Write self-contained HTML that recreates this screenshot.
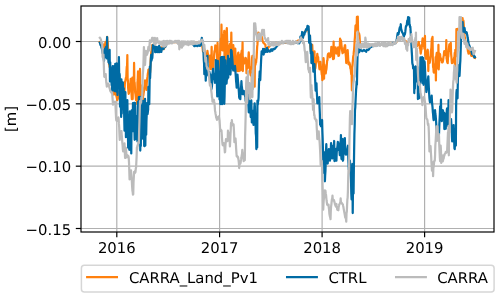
<!DOCTYPE html>
<html><head><meta charset="utf-8"><style>
html,body{margin:0;padding:0;background:#fff;}
svg{display:block;}
text{font-family:"DejaVu Sans","Liberation Sans",sans-serif;font-size:14.86px;fill:#000;text-rendering:geometricPrecision;}
</style></head><body>
<svg width="500" height="298" viewBox="0 0 500 298">
<rect width="500" height="298" fill="#fff"/>
<defs><clipPath id="ax"><rect x="81.0" y="6.0" width="413.0" height="226.0"/></clipPath></defs>
<g stroke="#b0b0b0" stroke-width="1.19"><line x1="81.0" y1="41.5" x2="494.0" y2="41.5"/><line x1="81.0" y1="103.83" x2="494.0" y2="103.83"/><line x1="81.0" y1="166.17" x2="494.0" y2="166.17"/><line x1="81.0" y1="228.5" x2="494.0" y2="228.5"/><line x1="116.8" y1="6.0" x2="116.8" y2="232.0"/><line x1="219.6" y1="6.0" x2="219.6" y2="232.0"/><line x1="322.1" y1="6.0" x2="322.1" y2="232.0"/><line x1="424.6" y1="6.0" x2="424.6" y2="232.0"/></g>
<g clip-path="url(#ax)" fill="none" stroke-width="2.23" stroke-linejoin="round" stroke-linecap="square">
<polyline stroke="#ff800e" points="99.80,41.98 100.08,41.92 100.36,42.25 100.64,42.47 100.92,42.83 101.21,42.91 101.49,42.68 101.77,43.06 102.05,43.18 102.33,44.10 102.61,43.92 102.89,44.78 103.17,45.80 103.45,45.85 103.73,46.27 104.02,47.04 104.30,47.58 104.58,47.29 104.86,49.02 105.14,43.85 105.42,42.33 105.70,41.84 105.98,42.29 106.26,41.85 106.54,42.37 106.83,40.84 107.11,36.88 107.39,41.88 107.67,41.36 107.95,47.21 108.23,51.89 108.51,55.51 108.79,59.80 109.07,64.65 109.35,64.19 109.64,66.81 109.92,67.77 110.20,67.67 110.48,70.05 110.76,69.03 111.04,70.64 111.32,71.44 111.60,77.38 111.88,78.54 112.16,83.49 112.45,86.89 112.73,89.51 113.01,92.47 113.29,93.05 113.57,93.96 113.85,94.47 114.13,93.28 114.41,92.70 114.69,91.45 114.98,91.18 115.26,92.05 115.54,92.43 115.82,94.11 116.10,94.87 116.38,95.85 116.66,97.12 116.94,98.27 117.22,100.03 117.50,99.35 117.79,98.39 118.07,98.44 118.35,96.60 118.63,96.14 118.91,95.10 119.19,94.60 119.47,91.80 119.75,92.02 120.03,95.32 120.31,99.84 120.60,104.77 120.88,104.14 121.16,101.62 121.44,98.19 121.72,107.10 122.00,92.61 122.28,88.89 122.56,94.49 122.84,106.37 123.12,100.54 123.41,103.66 123.69,98.45 123.97,95.17 124.25,92.43 124.53,90.35 124.81,84.18 125.09,81.38 125.37,81.00 125.65,79.17 125.93,77.71 126.22,78.41 126.50,71.34 126.78,66.65 127.06,66.79 127.34,55.07 127.62,78.77 127.90,80.74 128.18,88.49 128.46,91.59 128.75,93.80 129.03,92.81 129.31,90.23 129.59,87.67 129.87,85.62 130.15,84.23 130.43,82.86 130.71,78.79 130.99,84.93 131.27,87.03 131.56,94.47 131.84,99.10 132.12,83.23 132.40,77.63 132.68,99.10 132.96,78.35 133.24,87.37 133.52,86.38 133.80,84.91 134.08,62.97 134.37,83.33 134.65,82.52 134.93,88.39 135.21,92.74 135.49,94.10 135.77,96.85 136.05,100.11 136.33,98.73 136.61,96.72 136.89,91.79 137.18,103.98 137.46,82.56 137.74,79.94 138.02,71.44 138.30,79.97 138.58,84.18 138.86,86.24 139.14,96.26 139.42,94.84 139.70,99.65 139.99,68.92 140.27,95.25 140.55,89.03 140.83,88.44 141.11,85.40 141.39,102.10 141.67,86.61 141.95,89.41 142.23,94.25 142.52,92.06 142.80,101.71 143.08,95.93 143.36,95.34 143.64,92.70 143.92,91.44 144.20,87.07 144.48,87.92 144.76,85.46 145.04,80.37 145.33,82.29 145.61,85.55 145.89,83.68 146.17,86.66 146.45,89.98 146.73,83.51 147.01,80.05 147.29,78.05 147.57,76.16 147.85,73.61 148.14,72.32 148.42,69.69 148.70,69.52 148.98,71.99 149.26,73.38 149.54,73.22 149.82,73.56 150.10,72.30 150.38,67.00 150.66,60.16 150.95,56.25 151.23,52.70 151.51,50.72 151.79,48.28 152.07,46.93 152.35,44.90 152.63,46.64 152.91,46.23 153.19,46.28 153.47,44.90 153.76,46.28 154.04,47.03 154.32,47.31 154.60,47.45 154.88,47.56 155.16,47.56 155.44,47.57 155.72,47.37 156.00,47.59 156.29,47.57 156.57,48.33 156.85,48.87 157.13,49.74 157.41,49.41 157.69,49.44 157.97,48.89 158.25,50.10 158.53,48.17 158.81,48.79 159.10,48.99 159.38,48.82 159.66,48.49 159.94,47.98 160.22,47.81 160.50,47.70 160.78,47.68 161.06,47.54 161.34,49.99 161.62,47.34 161.91,47.75 162.19,47.75 162.47,47.88 162.75,48.33 163.03,48.24 163.31,48.15 163.59,48.62 163.87,49.00 164.15,47.97 164.43,47.71 164.72,47.07 165.00,46.32 165.28,45.74 165.56,45.30 165.84,44.77 166.12,44.44 166.40,43.89 166.68,43.78 166.96,43.77 167.24,43.53 167.53,43.33 167.81,43.04 168.09,42.85 168.37,42.75 168.65,42.69 168.93,42.64 169.21,42.56 169.49,42.46 169.77,42.34 170.05,42.25 170.34,42.25 170.62,42.25 170.90,42.25 171.18,42.25 171.46,42.25 171.74,42.25 172.02,42.25 172.30,42.25 172.58,42.25 172.87,42.25 173.15,42.25 173.43,42.25 173.71,42.25 173.99,42.25 174.27,42.25 174.55,42.25 174.83,42.25 175.11,42.25 175.39,42.25 175.68,42.25 175.96,42.25 176.24,42.25 176.52,42.25 176.80,42.25 177.08,42.25 177.36,42.25 177.64,42.25 177.92,42.25 178.20,42.25 178.49,42.25 178.77,42.25 179.05,42.25 179.33,42.25 179.61,42.25 179.89,42.25 180.17,42.25 180.45,42.25 180.73,42.25 181.01,42.25 181.30,42.25 181.58,42.25 181.86,42.25 182.14,42.25 182.42,42.25 182.70,42.25 182.98,42.25 183.26,42.25 183.54,42.25 183.82,42.25 184.11,42.25 184.39,42.25 184.67,42.25 184.95,42.25 185.23,42.25 185.51,42.25 185.79,42.25 186.07,42.25 186.35,42.25 186.64,42.25 186.92,42.25 187.20,42.25 187.48,42.25 187.76,42.25 188.04,42.25 188.32,42.25 188.60,42.25 188.88,42.25 189.16,42.25 189.45,42.25 189.73,42.25 190.01,42.25 190.29,42.25 190.57,42.25 190.85,42.25 191.13,42.25 191.41,42.25 191.69,42.25 191.97,42.25 192.26,42.25 192.54,42.25 192.82,42.25 193.10,42.25 193.38,42.25 193.66,42.25 193.94,42.25 194.22,42.25 194.50,42.25 194.78,42.25 195.07,42.25 195.35,42.25 195.63,42.25 195.91,42.25 196.19,42.25 196.47,42.25 196.75,42.25 197.03,42.25 197.31,42.25 197.59,42.25 197.88,42.25 198.16,42.25 198.44,42.25 198.72,42.25 199.00,42.25 199.28,42.25 199.56,42.25 199.84,42.25 200.12,42.47 200.41,43.13 200.69,43.67 200.97,44.00 201.25,44.15 201.53,44.52 201.81,44.69 202.09,45.45 202.37,46.80 202.65,48.63 202.93,51.43 203.22,51.15 203.50,50.51 203.78,49.35 204.06,48.64 204.34,49.50 204.62,50.43 204.90,52.20 205.18,53.52 205.46,54.43 205.74,56.83 206.03,57.38 206.31,57.49 206.59,56.42 206.87,55.54 207.15,54.14 207.43,50.90 207.71,52.87 207.99,54.54 208.27,55.09 208.55,55.37 208.84,57.16 209.12,57.55 209.40,60.25 209.68,62.36 209.96,60.23 210.24,69.10 210.52,56.40 210.80,55.36 211.08,55.15 211.36,58.50 211.65,46.90 211.93,69.10 212.21,63.30 212.49,65.81 212.77,66.56 213.05,64.30 213.33,68.82 213.61,60.58 213.89,59.76 214.18,54.41 214.46,51.13 214.74,51.72 215.02,49.35 215.30,45.37 215.58,45.73 215.86,48.81 216.14,48.39 216.42,51.79 216.70,51.30 216.99,55.74 217.27,69.10 217.55,42.97 217.83,53.67 218.11,59.77 218.39,69.10 218.67,68.87 218.95,62.56 219.23,58.91 219.51,59.88 219.80,55.31 220.08,54.60 220.36,45.75 220.64,42.75 220.92,38.61 221.20,42.49 221.48,24.70 221.76,46.28 222.04,49.96 222.32,47.40 222.61,50.33 222.89,45.90 223.17,42.69 223.45,41.22 223.73,34.71 224.01,33.47 224.29,30.90 224.57,64.10 224.85,52.58 225.13,59.38 225.42,57.44 225.70,63.28 225.98,43.32 226.26,38.78 226.54,31.41 226.82,28.01 227.10,39.31 227.38,43.29 227.66,46.24 227.95,51.05 228.23,60.50 228.51,55.29 228.79,52.80 229.07,51.26 229.35,48.27 229.63,46.33 229.91,44.55 230.19,43.65 230.47,44.02 230.76,45.76 231.04,45.90 231.32,32.53 231.60,50.25 231.88,51.34 232.16,55.23 232.44,53.23 232.72,50.81 233.00,46.37 233.28,45.01 233.57,48.79 233.85,55.37 234.13,61.40 234.41,70.56 234.69,70.18 234.97,58.37 235.25,48.61 235.53,55.34 235.81,63.15 236.09,69.79 236.38,65.11 236.66,64.92 236.94,61.01 237.22,71.10 237.50,58.73 237.78,55.98 238.06,53.26 238.34,52.59 238.62,55.08 238.90,71.10 239.19,60.21 239.47,59.85 239.75,56.39 240.03,61.28 240.31,55.17 240.59,70.50 240.87,54.39 241.15,53.83 241.43,52.78 241.72,50.64 242.00,54.87 242.28,54.32 242.56,42.44 242.84,71.10 243.12,57.24 243.40,59.20 243.68,60.67 243.96,63.69 244.24,62.76 244.53,62.37 244.81,60.39 245.09,61.29 245.37,61.86 245.65,57.90 245.93,58.69 246.21,60.82 246.49,73.10 246.77,63.12 247.05,66.75 247.34,67.48 247.62,68.25 247.90,62.40 248.18,62.01 248.46,56.40 248.74,52.44 249.02,55.84 249.30,59.31 249.58,66.08 249.86,68.07 250.15,72.31 250.43,74.18 250.71,75.35 250.99,70.16 251.27,67.38 251.55,67.03 251.83,82.13 252.11,57.62 252.39,55.90 252.67,65.45 252.96,73.61 253.24,68.60 253.52,55.99 253.80,64.62 254.08,58.80 254.36,65.98 254.64,86.67 254.92,61.84 255.20,62.99 255.49,64.75 255.77,60.65 256.05,62.66 256.33,59.65 256.61,58.04 256.89,51.85 257.17,46.67 257.45,44.40 257.73,38.10 258.01,36.22 258.30,32.51 258.58,32.73 258.86,35.07 259.14,35.30 259.42,35.62 259.70,36.96 259.98,38.31 260.26,39.16 260.54,38.22 260.82,37.58 261.11,36.66 261.39,36.85 261.67,36.53 261.95,38.03 262.23,38.29 262.51,40.54 262.79,41.38 263.07,42.03 263.35,42.72 263.63,43.12 263.92,43.19 264.20,43.45 264.48,43.72 264.76,44.12 265.04,44.37 265.32,44.46 265.60,46.94 265.88,48.92 266.16,48.73 266.44,48.82 266.73,48.77 267.01,48.66 267.29,48.90 267.57,48.47 267.85,49.78 268.13,47.29 268.41,46.60 268.69,46.71 268.97,46.51 269.26,46.60 269.54,46.19 269.82,46.01 270.10,45.53 270.38,45.38 270.66,45.21 270.94,45.00 271.22,44.92 271.50,44.69 271.78,44.60 272.07,44.54 272.35,44.41 272.63,44.27 272.91,44.12 273.19,44.04 273.47,43.95 273.75,43.91 274.03,43.86 274.31,43.83 274.59,43.79 274.88,43.76 275.16,43.72 275.44,43.70 275.72,43.66 276.00,43.63 276.28,43.59 276.56,43.55 276.84,43.52 277.12,43.48 277.40,43.45 277.69,43.41 277.97,43.38 278.25,43.34 278.53,43.31 278.81,43.27 279.09,43.24 279.37,43.22 279.65,43.20 279.93,43.17 280.21,43.15 280.50,43.13 280.78,43.10 281.06,43.08 281.34,43.06 281.62,43.03 281.90,43.01 282.18,42.98 282.46,42.96 282.74,42.94 283.03,42.91 283.31,42.89 283.59,42.87 283.87,42.84 284.15,42.82 284.43,42.80 284.71,42.77 284.99,42.75 285.27,42.75 285.55,42.75 285.84,42.75 286.12,42.75 286.40,42.75 286.68,42.75 286.96,42.75 287.24,42.75 287.52,42.75 287.80,42.75 288.08,42.75 288.36,42.75 288.65,42.75 288.93,42.75 289.21,42.75 289.49,42.75 289.77,42.75 290.05,42.75 290.33,42.75 290.61,42.75 290.89,42.75 291.17,42.75 291.46,42.75 291.74,42.75 292.02,42.75 292.30,42.75 292.58,42.75 292.86,42.75 293.14,42.75 293.42,42.75 293.70,42.75 293.98,42.75 294.27,42.75 294.55,42.75 294.83,42.75 295.11,42.68 295.39,42.49 295.67,42.30 295.95,42.10 296.23,41.86 296.51,41.65 296.80,41.34 297.08,41.10 297.36,40.97 297.64,40.86 297.92,40.69 298.20,40.62 298.48,40.64 298.76,40.52 299.04,40.48 299.32,40.28 299.61,40.13 299.89,39.91 300.17,41.02 300.45,40.32 300.73,40.06 301.01,39.90 301.29,39.86 301.57,39.60 301.85,39.40 302.13,38.93 302.42,38.13 302.70,37.40 302.98,36.88 303.26,35.57 303.54,34.79 303.82,33.57 304.10,33.17 304.38,32.79 304.66,32.21 304.94,31.66 305.23,31.38 305.51,31.14 305.79,30.74 306.07,30.56 306.35,30.07 306.63,29.65 306.91,29.41 307.19,29.02 307.47,28.72 307.75,28.43 308.04,28.09 308.32,29.82 308.60,31.36 308.88,32.90 309.16,35.75 309.44,37.59 309.72,40.15 310.00,42.83 310.28,46.42 310.56,48.82 310.85,51.24 311.13,52.29 311.41,50.54 311.69,48.61 311.97,47.71 312.25,44.93 312.53,51.07 312.81,55.12 313.09,62.31 313.38,68.04 313.66,63.79 313.94,59.06 314.22,53.80 314.50,51.30 314.78,71.10 315.06,63.39 315.34,68.43 315.62,66.42 315.90,62.74 316.19,61.91 316.47,60.64 316.75,57.73 317.03,56.57 317.31,53.81 317.59,56.69 317.87,56.86 318.15,57.17 318.43,61.73 318.71,63.07 319.00,64.15 319.28,67.94 319.56,69.25 319.84,66.86 320.12,63.54 320.40,61.81 320.68,64.74 320.96,68.81 321.24,68.67 321.52,71.84 321.81,74.70 322.09,74.87 322.37,80.10 322.65,76.41 322.93,67.18 323.21,64.69 323.49,58.02 323.77,60.54 324.05,78.74 324.33,64.58 324.62,68.00 324.90,67.50 325.18,70.84 325.46,72.11 325.74,73.36 326.02,70.65 326.30,69.93 326.58,67.50 326.86,64.15 327.15,60.52 327.43,60.47 327.71,55.92 327.99,54.26 328.27,53.55 328.55,54.21 328.83,53.30 329.11,54.37 329.39,54.70 329.67,56.21 329.96,57.26 330.24,54.25 330.52,56.27 330.80,53.67 331.08,51.56 331.36,46.84 331.64,50.74 331.92,51.13 332.20,52.27 332.48,54.41 332.77,56.41 333.05,59.10 333.33,57.48 333.61,41.58 333.89,58.58 334.17,53.49 334.45,50.70 334.73,49.28 335.01,48.87 335.29,49.12 335.58,47.43 335.86,49.68 336.14,52.35 336.42,53.53 336.70,52.85 336.98,52.83 337.26,51.29 337.54,50.02 337.82,49.28 338.10,47.32 338.39,55.92 338.67,52.43 338.95,55.67 339.23,53.10 339.51,49.68 339.79,47.94 340.07,38.55 340.35,45.06 340.63,40.80 340.92,40.29 341.20,42.19 341.48,45.32 341.76,47.32 342.04,50.32 342.32,51.81 342.60,53.20 342.88,52.50 343.16,52.41 343.44,51.55 343.73,52.15 344.01,50.70 344.29,47.56 344.57,47.72 344.85,45.34 345.13,45.12 345.41,50.17 345.69,54.37 345.97,57.51 346.25,63.03 346.54,59.26 346.82,56.39 347.10,55.31 347.38,52.61 347.66,50.16 347.94,54.91 348.22,59.86 348.50,64.30 348.78,63.90 349.06,62.42 349.35,62.55 349.63,63.81 349.91,64.21 350.19,66.71 350.47,68.89 350.75,68.93 351.03,72.26 351.31,74.63 351.59,72.19 351.87,90.35 352.16,67.67 352.44,65.84 352.72,62.59 353.00,59.13 353.28,56.17 353.56,54.95 353.84,51.58 354.12,49.53 354.40,45.82 354.69,39.87 354.97,36.79 355.25,30.93 355.53,25.62 355.81,25.26 356.09,25.49 356.37,29.71 356.65,26.23 356.93,16.79 357.21,30.88 357.50,29.72 357.78,16.50 358.06,31.89 358.34,32.03 358.62,32.61 358.90,34.61 359.18,33.84 359.46,35.40 359.74,39.65 360.02,43.02 360.31,43.70 360.59,44.21 360.87,44.85 361.15,45.27 361.43,45.09 361.71,44.73 361.99,45.26 362.27,46.10 362.55,45.81 362.83,46.10 363.12,46.00 363.40,45.86 363.68,45.70 363.96,45.57 364.24,45.51 364.52,45.39 364.80,45.26 365.08,45.52 365.36,45.92 365.64,45.29 365.93,44.90 366.21,45.04 366.49,45.32 366.77,45.52 367.05,45.69 367.33,45.84 367.61,45.88 367.89,45.94 368.17,45.70 368.46,45.51 368.74,45.37 369.02,45.20 369.30,45.10 369.58,44.94 369.86,45.05 370.14,46.09 370.42,45.35 370.70,45.51 370.98,45.63 371.27,45.72 371.55,45.87 371.83,45.54 372.11,45.10 372.39,44.87 372.67,45.18 372.95,45.71 373.23,45.52 373.51,45.25 373.79,45.13 374.08,45.05 374.36,44.87 374.64,44.89 374.92,45.04 375.20,45.04 375.48,45.07 375.76,45.17 376.04,44.95 376.32,44.79 376.60,44.57 376.89,44.74 377.17,44.79 377.45,44.96 377.73,44.98 378.01,44.93 378.29,44.87 378.57,44.82 378.85,44.66 379.13,44.69 379.41,44.57 379.70,44.46 379.98,44.45 380.26,44.58 380.54,44.79 380.82,44.77 381.10,44.66 381.38,44.56 381.66,44.51 381.94,44.49 382.23,44.43 382.51,44.34 382.79,44.29 383.07,44.40 383.35,44.52 383.63,44.42 383.91,44.60 384.19,44.63 384.47,44.73 384.75,44.80 385.04,44.84 385.32,44.58 385.60,44.33 385.88,44.11 386.16,44.26 386.44,44.27 386.72,44.32 387.00,44.39 387.28,44.41 387.56,44.37 387.85,44.31 388.13,44.21 388.41,44.01 388.69,44.02 388.97,44.01 389.25,44.03 389.53,44.12 389.81,44.19 390.09,44.27 390.37,43.96 390.66,43.74 390.94,43.77 391.22,43.85 391.50,43.79 391.78,43.83 392.06,43.82 392.34,43.82 392.62,43.62 392.90,43.55 393.18,43.36 393.47,43.25 393.75,43.13 394.03,43.07 394.31,42.89 394.59,42.76 394.87,42.70 395.15,42.64 395.43,42.62 395.71,42.58 396.00,42.53 396.28,42.09 396.56,41.60 396.84,41.14 397.12,40.68 397.40,40.22 397.68,39.77 397.96,39.31 398.24,39.19 398.52,39.12 398.81,39.05 399.09,38.98 399.37,38.91 399.65,38.84 399.93,38.77 400.21,38.75 400.49,38.75 400.77,38.75 401.05,38.75 401.33,38.75 401.62,38.75 401.90,38.75 402.18,38.86 402.46,39.04 402.74,39.21 403.02,39.39 403.30,39.56 403.58,39.75 403.86,39.95 404.14,40.18 404.43,40.43 404.71,40.63 404.99,40.80 405.27,41.01 405.55,41.17 405.83,41.21 406.11,41.31 406.39,41.66 406.67,42.05 406.95,42.23 407.24,42.94 407.52,42.55 407.80,42.45 408.08,42.38 408.36,42.09 408.64,41.81 408.92,41.38 409.20,41.07 409.48,40.83 409.77,40.76 410.05,39.93 410.33,40.91 410.61,41.24 410.89,41.40 411.17,41.47 411.45,41.60 411.73,41.83 412.01,42.07 412.29,42.16 412.58,42.27 412.86,42.80 413.14,42.84 413.42,43.18 413.70,43.74 413.98,43.91 414.26,44.24 414.54,44.52 414.82,45.26 415.10,45.15 415.39,45.51 415.67,45.97 415.95,42.90 416.23,46.06 416.51,45.51 416.79,45.88 417.07,46.15 417.35,44.59 417.63,45.02 417.91,44.62 418.20,43.60 418.48,42.33 418.76,41.89 419.04,44.73 419.32,44.74 419.60,46.09 419.88,48.74 420.16,47.02 420.44,50.91 420.72,53.53 421.01,51.94 421.29,49.80 421.57,49.33 421.85,44.82 422.13,43.21 422.41,40.17 422.69,38.28 422.97,40.52 423.25,45.88 423.54,43.89 423.82,45.72 424.10,45.48 424.38,48.58 424.66,48.80 424.94,35.91 425.22,55.23 425.50,54.87 425.78,57.07 426.06,58.83 426.35,56.00 426.63,54.66 426.91,54.43 427.19,51.01 427.47,50.41 427.75,49.68 428.03,55.69 428.31,71.10 428.59,57.47 428.87,57.33 429.16,60.96 429.44,62.19 429.72,62.76 430.00,61.00 430.28,58.92 430.56,56.69 430.84,51.49 431.12,49.87 431.40,47.69 431.68,40.94 431.97,38.33 432.25,42.70 432.53,36.94 432.81,57.51 433.09,67.08 433.37,67.75 433.65,71.87 433.93,72.68 434.21,69.53 434.49,68.55 434.78,68.83 435.06,64.08 435.34,64.32 435.62,57.20 435.90,80.48 436.18,57.48 436.46,55.00 436.74,52.93 437.02,59.88 437.31,59.99 437.59,65.47 437.87,65.53 438.15,68.71 438.43,44.95 438.71,69.48 438.99,63.63 439.27,60.27 439.55,56.83 439.83,53.74 440.12,54.64 440.40,58.29 440.68,59.16 440.96,58.32 441.24,60.11 441.52,59.93 441.80,62.12 442.08,62.38 442.36,62.37 442.64,62.08 442.93,61.18 443.21,59.22 443.49,56.82 443.77,55.72 444.05,52.28 444.33,51.01 444.61,51.25 444.89,52.55 445.17,54.29 445.45,53.40 445.74,55.07 446.02,54.66 446.30,40.13 446.58,58.36 446.86,59.39 447.14,61.78 447.42,62.79 447.70,63.10 447.98,57.24 448.26,56.77 448.55,52.57 448.83,49.53 449.11,46.54 449.39,44.47 449.67,45.78 449.95,47.45 450.23,51.03 450.51,49.37 450.79,42.91 451.07,53.48 451.36,56.29 451.64,60.05 451.92,63.12 452.20,60.75 452.48,62.99 452.76,60.05 453.04,61.66 453.32,59.84 453.60,60.30 453.89,59.12 454.17,57.33 454.45,57.50 454.73,52.75 455.01,70.21 455.29,49.96 455.57,54.32 455.85,53.43 456.13,56.02 456.41,29.13 456.70,56.24 456.98,53.43 457.26,49.46 457.54,28.78 457.82,48.21 458.10,40.21 458.38,38.17 458.66,37.52 458.94,42.38 459.22,45.04 459.51,47.48 459.79,44.47 460.07,40.76 460.35,37.39 460.63,31.19 460.91,32.04 461.19,31.67 461.47,34.10 461.75,36.68 462.03,36.16 462.32,32.85 462.60,18.19 462.88,24.76 463.16,22.86 463.44,20.72 463.72,24.27 464.00,28.58 464.28,33.08 464.56,35.84 464.84,38.04 465.13,39.78 465.41,41.77 465.69,44.16 465.97,44.46 466.25,44.27 466.53,44.08 466.81,43.73 467.09,45.00 467.37,47.13 467.66,48.99 467.94,51.45 468.22,52.14 468.50,53.60 468.78,53.19 469.06,52.30 469.34,51.64 469.62,51.29 469.90,50.86 470.18,52.17 470.47,53.28 470.75,54.07 471.03,54.97 471.31,55.78 471.59,55.92 471.87,55.44 472.15,55.52 472.43,55.58 472.71,55.69 472.99,55.39 473.28,55.81 473.56,56.43 473.84,56.94 474.12,57.47 474.40,57.72 474.68,57.96 474.96,57.99"/>
<polyline stroke="#006ba4" points="99.80,42.71 100.08,43.47 100.36,44.65 100.64,45.21 100.92,45.35 101.21,45.48 101.49,47.91 101.77,47.82 102.05,49.55 102.33,51.33 102.61,52.94 102.89,52.04 103.17,54.28 103.45,56.20 103.73,58.17 104.02,61.05 104.30,55.68 104.58,49.15 104.86,53.26 105.14,54.38 105.42,57.23 105.70,47.55 105.98,47.02 106.26,55.15 106.54,54.15 106.83,58.33 107.11,37.11 107.39,57.88 107.67,50.90 107.95,55.14 108.23,57.04 108.51,62.11 108.79,61.76 109.07,63.35 109.35,52.57 109.64,49.97 109.92,81.47 110.20,62.29 110.48,76.72 110.76,77.82 111.04,71.74 111.32,72.91 111.60,85.19 111.88,80.38 112.16,90.77 112.45,68.41 112.73,66.01 113.01,89.12 113.29,84.00 113.57,75.29 113.85,66.34 114.13,77.05 114.41,91.10 114.69,81.07 114.98,75.18 115.26,63.82 115.54,70.66 115.82,77.36 116.10,85.54 116.38,91.62 116.66,63.28 116.94,72.04 117.22,84.34 117.50,94.89 117.79,82.09 118.07,65.93 118.35,72.07 118.63,75.69 118.91,57.08 119.19,77.76 119.47,73.51 119.75,75.19 120.03,106.69 120.31,84.67 120.60,90.26 120.88,106.92 121.16,116.90 121.44,79.44 121.72,113.68 122.00,103.84 122.28,100.11 122.56,91.19 122.84,82.27 123.12,106.99 123.41,94.53 123.69,88.28 123.97,104.16 124.25,118.48 124.53,130.65 124.81,117.99 125.09,105.93 125.37,92.02 125.65,113.83 125.93,137.14 126.22,124.33 126.50,115.17 126.78,118.81 127.06,127.35 127.34,100.12 127.62,119.30 127.90,131.44 128.18,147.65 128.46,133.74 128.75,126.88 129.03,132.41 129.31,149.85 129.59,123.42 129.87,111.32 130.15,144.98 130.43,124.77 130.71,128.22 130.99,131.32 131.27,153.45 131.56,121.55 131.84,110.13 132.12,116.64 132.40,122.73 132.68,131.20 132.96,103.02 133.24,129.30 133.52,119.07 133.80,108.35 134.08,102.90 134.37,126.38 134.65,139.81 134.93,102.90 135.21,106.66 135.49,132.68 135.77,118.45 136.05,125.88 136.33,139.10 136.61,116.42 136.89,123.55 137.18,135.60 137.46,141.38 137.74,120.23 138.02,101.75 138.30,107.09 138.58,121.88 138.86,97.18 139.14,141.32 139.42,134.74 139.70,130.39 139.99,96.90 140.27,150.57 140.55,132.66 140.83,146.06 141.11,97.34 141.39,113.70 141.67,117.88 141.95,131.15 142.23,138.54 142.52,106.66 142.80,123.46 143.08,100.90 143.36,127.68 143.64,117.56 143.92,109.57 144.20,146.10 144.48,121.71 144.76,146.10 145.04,98.93 145.33,145.45 145.61,121.33 145.89,126.88 146.17,134.81 146.45,120.87 146.73,114.28 147.01,103.11 147.29,104.10 147.57,114.01 147.85,111.74 148.14,109.53 148.42,86.93 148.70,93.70 148.98,97.95 149.26,104.22 149.54,86.15 149.82,66.71 150.10,78.27 150.38,71.15 150.66,64.23 150.95,57.75 151.23,54.97 151.51,60.57 151.79,58.04 152.07,58.86 152.35,57.46 152.63,52.52 152.91,45.07 153.19,48.13 153.47,44.90 153.76,47.13 154.04,46.24 154.32,46.42 154.60,44.91 154.88,44.90 155.16,52.10 155.44,49.89 155.72,52.02 156.00,50.49 156.29,49.01 156.57,48.32 156.85,46.76 157.13,48.92 157.41,52.10 157.69,51.93 157.97,49.78 158.25,47.97 158.53,50.26 158.81,52.06 159.10,45.95 159.38,52.10 159.66,47.05 159.94,48.24 160.22,48.92 160.50,50.00 160.78,51.10 161.06,50.48 161.34,51.93 161.62,49.66 161.91,48.95 162.19,48.23 162.47,48.39 162.75,49.25 163.03,49.21 163.31,48.74 163.59,48.82 163.87,47.88 164.15,46.30 164.43,46.35 164.72,46.71 165.00,46.26 165.28,46.56 165.56,46.65 165.84,45.12 166.12,44.35 166.40,43.81 166.68,43.24 166.96,42.66 167.24,42.74 167.53,42.69 167.81,42.46 168.09,42.24 168.37,42.20 168.65,42.17 168.93,42.13 169.21,42.10 169.49,42.06 169.77,42.03 170.05,42.00 170.34,42.00 170.62,42.00 170.90,42.00 171.18,42.00 171.46,42.00 171.74,42.00 172.02,42.00 172.30,42.00 172.58,42.00 172.87,42.00 173.15,42.00 173.43,42.00 173.71,42.00 173.99,42.00 174.27,42.00 174.55,42.00 174.83,42.00 175.11,42.00 175.39,42.00 175.68,42.00 175.96,42.00 176.24,42.00 176.52,42.00 176.80,42.00 177.08,42.00 177.36,42.00 177.64,42.00 177.92,42.00 178.20,42.00 178.49,42.00 178.77,42.00 179.05,42.00 179.33,42.00 179.61,42.00 179.89,42.00 180.17,42.00 180.45,42.00 180.73,42.00 181.01,42.00 181.30,42.00 181.58,42.00 181.86,42.00 182.14,42.00 182.42,42.00 182.70,42.00 182.98,42.00 183.26,42.00 183.54,42.00 183.82,42.00 184.11,42.00 184.39,42.00 184.67,42.00 184.95,42.00 185.23,42.00 185.51,42.00 185.79,42.00 186.07,42.00 186.35,42.00 186.64,42.00 186.92,42.00 187.20,42.00 187.48,42.00 187.76,42.00 188.04,42.00 188.32,42.00 188.60,42.00 188.88,42.00 189.16,42.00 189.45,42.00 189.73,42.00 190.01,42.01 190.29,42.26 190.57,42.51 190.85,42.76 191.13,43.02 191.41,43.27 191.69,43.53 191.97,43.80 192.26,44.02 192.54,44.26 192.82,44.36 193.10,44.48 193.38,44.61 193.66,44.98 193.94,45.28 194.22,46.10 194.50,45.66 194.78,45.86 195.07,46.10 195.35,45.64 195.63,45.42 195.91,45.53 196.19,45.65 196.47,45.76 196.75,45.84 197.03,45.73 197.31,46.10 197.59,45.66 197.88,45.66 198.16,45.51 198.44,45.45 198.72,45.39 199.00,45.54 199.28,45.48 199.56,45.57 199.84,45.78 200.12,45.39 200.41,45.52 200.69,45.02 200.97,43.33 201.25,42.12 201.53,40.60 201.81,37.75 202.09,39.73 202.37,40.57 202.65,42.26 202.93,45.21 203.22,48.17 203.50,52.65 203.78,59.94 204.06,63.26 204.34,74.21 204.62,62.94 204.90,52.45 205.18,62.51 205.46,72.42 205.74,80.61 206.03,74.12 206.31,71.84 206.59,68.92 206.87,66.34 207.15,64.22 207.43,55.90 207.71,70.57 207.99,73.95 208.27,75.27 208.55,75.80 208.84,72.52 209.12,75.02 209.40,71.90 209.68,73.98 209.96,75.35 210.24,74.37 210.52,80.64 210.80,83.18 211.08,85.71 211.36,89.28 211.65,88.13 211.93,86.09 212.21,81.07 212.49,74.56 212.77,71.50 213.05,68.89 213.33,73.30 213.61,73.42 213.89,75.44 214.18,78.92 214.46,78.44 214.74,80.74 215.02,82.77 215.30,78.42 215.58,81.47 215.86,60.11 216.14,79.80 216.42,74.03 216.70,73.49 216.99,87.38 217.27,96.43 217.55,81.71 217.83,60.81 218.11,67.97 218.39,71.66 218.67,79.52 218.95,83.65 219.23,91.96 219.51,99.39 219.80,90.86 220.08,77.33 220.36,104.10 220.64,66.80 220.92,57.44 221.20,71.07 221.48,88.59 221.76,104.10 222.04,56.90 222.32,104.10 222.61,73.01 222.89,77.83 223.17,88.28 223.45,84.57 223.73,98.65 224.01,56.90 224.29,103.81 224.57,96.15 224.85,82.33 225.13,74.30 225.42,60.42 225.70,70.94 225.98,77.01 226.26,83.68 226.54,83.50 226.82,79.71 227.10,79.41 227.38,78.01 227.66,72.44 227.95,55.93 228.23,77.60 228.51,70.21 228.79,69.57 229.07,65.79 229.35,62.77 229.63,58.80 229.91,62.35 230.19,69.07 230.47,74.52 230.76,69.26 231.04,49.92 231.32,57.34 231.60,50.75 231.88,55.05 232.16,56.79 232.44,60.78 232.72,64.00 233.00,68.54 233.28,70.47 233.57,68.19 233.85,70.27 234.13,66.98 234.41,66.80 234.69,66.29 234.97,65.95 235.25,68.81 235.53,72.91 235.81,76.43 236.09,81.04 236.38,83.56 236.66,87.60 236.94,82.90 237.22,78.62 237.50,74.70 237.78,78.32 238.06,82.47 238.34,84.41 238.62,88.41 238.90,92.11 239.19,97.19 239.47,98.30 239.75,93.03 240.03,93.54 240.31,99.10 240.59,89.91 240.87,88.98 241.15,86.10 241.43,81.23 241.72,85.85 242.00,87.77 242.28,90.65 242.56,94.11 242.84,91.75 243.12,93.62 243.40,90.98 243.68,92.40 243.96,92.57 244.24,94.27 244.53,91.44 244.81,92.25 245.09,96.31 245.37,96.82 245.65,100.87 245.93,100.48 246.21,101.83 246.49,102.54 246.77,99.88 247.05,99.33 247.34,95.27 247.62,96.95 247.90,93.01 248.18,100.79 248.46,105.50 248.74,112.30 249.02,110.17 249.30,106.57 249.58,91.01 249.86,98.07 250.15,103.17 250.43,107.91 250.71,117.08 250.99,103.89 251.27,100.27 251.55,109.60 251.83,122.47 252.11,114.69 252.39,111.29 252.67,110.78 252.96,114.71 253.24,121.66 253.52,124.87 253.80,122.78 254.08,117.08 254.36,107.02 254.64,103.44 254.92,107.23 255.20,115.47 255.49,122.49 255.77,133.43 256.05,135.91 256.33,149.10 256.61,145.45 256.89,138.80 257.17,147.39 257.45,100.53 257.73,104.51 258.01,101.85 258.30,100.67 258.58,97.51 258.86,88.08 259.14,78.93 259.42,77.17 259.70,71.46 259.98,79.91 260.26,80.05 260.54,72.93 260.82,66.66 261.11,60.31 261.39,55.33 261.67,51.34 261.95,52.19 262.23,52.42 262.51,53.60 262.79,53.01 263.07,48.90 263.35,53.69 263.63,54.55 263.92,52.63 264.20,50.19 264.48,49.02 264.76,50.50 265.04,51.41 265.32,52.03 265.60,51.18 265.88,51.19 266.16,50.54 266.44,49.74 266.73,48.83 267.01,47.91 267.29,51.96 267.57,51.06 267.85,50.55 268.13,49.99 268.41,50.61 268.69,50.68 268.97,51.26 269.26,51.60 269.54,51.25 269.82,51.13 270.10,50.61 270.38,51.47 270.66,50.05 270.94,49.67 271.22,49.29 271.50,49.85 271.78,50.14 272.07,50.43 272.35,50.76 272.63,50.13 272.91,49.69 273.19,48.87 273.47,49.00 273.75,49.07 274.03,49.19 274.31,49.24 274.59,49.06 274.88,48.73 275.16,48.36 275.44,48.05 275.72,47.59 276.00,47.26 276.28,46.89 276.56,46.67 276.84,46.35 277.12,46.02 277.40,45.41 277.69,44.65 277.97,44.46 278.25,44.21 278.53,44.15 278.81,43.95 279.09,43.59 279.37,43.31 279.65,43.05 279.93,42.81 280.21,42.73 280.50,42.70 280.78,42.67 281.06,42.64 281.34,42.62 281.62,42.59 281.90,42.56 282.18,42.53 282.46,42.50 282.74,42.48 283.03,42.45 283.31,42.42 283.59,42.39 283.87,42.36 284.15,42.34 284.43,42.31 284.71,42.28 284.99,42.25 285.27,42.25 285.55,42.25 285.84,42.25 286.12,42.25 286.40,42.25 286.68,42.25 286.96,42.25 287.24,42.25 287.52,42.25 287.80,42.25 288.08,42.25 288.36,42.25 288.65,42.25 288.93,42.25 289.21,42.25 289.49,42.25 289.77,42.25 290.05,42.25 290.33,42.25 290.61,42.25 290.89,42.25 291.17,42.25 291.46,42.25 291.74,42.25 292.02,42.25 292.30,42.25 292.58,42.25 292.86,42.25 293.14,42.25 293.42,42.25 293.70,42.25 293.98,42.25 294.27,42.25 294.55,42.25 294.83,42.25 295.11,42.29 295.39,42.40 295.67,42.50 295.95,42.61 296.23,42.71 296.51,42.79 296.80,42.85 297.08,43.00 297.36,43.18 297.64,43.23 297.92,43.19 298.20,43.26 298.48,43.18 298.76,43.21 299.04,43.14 299.32,43.26 299.61,41.76 299.89,41.81 300.17,39.95 300.45,36.67 300.73,38.11 301.01,39.29 301.29,40.71 301.57,37.84 301.85,35.17 302.13,31.99 302.42,35.19 302.70,36.36 302.98,37.80 303.26,36.15 303.54,35.05 303.82,33.11 304.10,34.11 304.38,34.62 304.66,31.97 304.94,31.85 305.23,32.29 305.51,31.17 305.79,30.07 306.07,29.21 306.35,29.78 306.63,29.80 306.91,28.39 307.19,27.71 307.47,25.93 307.75,28.11 308.04,28.49 308.32,26.91 308.60,26.39 308.88,34.87 309.16,42.81 309.44,42.09 309.72,37.56 310.00,35.67 310.28,41.22 310.56,49.33 310.85,53.62 311.13,44.07 311.41,63.10 311.69,57.70 311.97,53.65 312.25,52.08 312.53,52.82 312.81,57.52 313.09,64.54 313.38,71.61 313.66,67.55 313.94,66.36 314.22,67.34 314.50,64.23 314.78,70.24 315.06,78.04 315.34,83.45 315.62,90.67 315.90,87.69 316.19,84.87 316.47,83.40 316.75,91.47 317.03,96.01 317.31,103.16 317.59,103.28 317.87,101.41 318.15,100.93 318.43,98.68 318.71,98.30 319.00,98.44 319.28,97.16 319.56,107.41 319.84,113.56 320.12,124.69 320.40,124.46 320.68,124.89 320.96,126.16 321.24,121.72 321.52,123.54 321.81,120.53 322.09,119.94 322.37,131.02 322.65,137.98 322.93,149.42 323.21,156.95 323.49,164.68 323.77,172.77 324.05,163.31 324.33,158.33 324.62,152.28 324.90,181.31 325.18,174.82 325.46,170.70 325.74,161.51 326.02,150.29 326.30,144.20 326.58,151.60 326.86,153.34 327.15,158.53 327.43,162.01 327.71,163.50 327.99,158.34 328.27,155.78 328.55,151.90 328.83,149.08 329.11,153.06 329.39,152.15 329.67,155.00 329.96,160.71 330.24,151.87 330.52,151.97 330.80,149.59 331.08,143.06 331.36,149.25 331.64,154.92 331.92,157.43 332.20,158.48 332.48,155.64 332.77,150.36 333.05,145.53 333.33,148.39 333.61,149.44 333.89,151.25 334.17,140.99 334.45,161.10 334.73,154.84 335.01,151.70 335.29,148.74 335.58,154.20 335.86,157.47 336.14,159.21 336.42,160.68 336.70,152.44 336.98,150.23 337.26,147.54 337.54,145.54 337.82,141.90 338.10,143.58 338.39,146.30 338.67,147.71 338.95,150.25 339.23,150.24 339.51,151.38 339.79,155.11 340.07,149.87 340.35,142.07 340.63,146.25 340.92,135.13 341.20,154.18 341.48,159.06 341.76,146.88 342.04,138.93 342.32,142.58 342.60,149.17 342.88,160.77 343.16,159.80 343.44,152.21 343.73,150.14 344.01,141.94 344.29,138.50 344.57,141.07 344.85,138.00 345.13,148.75 345.41,150.04 345.69,154.47 345.97,154.65 346.25,152.58 346.54,150.42 346.82,151.48 347.10,150.67 347.38,148.86 347.66,147.23 347.94,145.73 348.22,155.42 348.50,162.42 348.78,169.33 349.06,168.83 349.35,162.18 349.63,164.59 349.91,160.64 350.19,165.63 350.47,169.11 350.75,175.06 351.03,180.88 351.31,193.88 351.59,199.40 351.87,190.38 352.16,178.08 352.44,163.99 352.72,213.06 353.00,184.44 353.28,187.15 353.56,193.46 353.84,169.59 354.12,150.87 354.40,134.14 354.69,125.28 354.97,110.48 355.25,107.74 355.53,101.50 355.81,95.65 356.09,89.60 356.37,86.80 356.65,81.31 356.93,84.65 357.21,68.86 357.50,56.47 357.78,50.91 358.06,49.62 358.34,50.28 358.62,43.42 358.90,51.58 359.18,52.22 359.46,51.50 359.74,51.00 360.02,50.39 360.31,50.19 360.59,50.37 360.87,50.15 361.15,50.09 361.43,50.29 361.71,50.74 361.99,51.07 362.27,51.11 362.55,51.11 362.83,50.84 363.12,50.59 363.40,50.50 363.68,50.38 363.96,49.99 364.24,50.17 364.52,50.58 364.80,50.65 365.08,50.88 365.36,50.92 365.64,50.79 365.93,50.69 366.21,51.82 366.49,50.18 366.77,50.05 367.05,49.67 367.33,49.64 367.61,49.83 367.89,50.02 368.17,50.08 368.46,49.78 368.74,49.63 369.02,49.14 369.30,48.61 369.58,48.11 369.86,47.88 370.14,47.69 370.42,47.39 370.70,47.07 370.98,46.85 371.27,46.71 371.55,46.80 371.83,46.21 372.11,45.66 372.39,45.71 372.67,45.96 372.95,45.84 373.23,46.02 373.51,45.74 373.79,45.52 374.08,45.47 374.36,45.55 374.64,45.55 374.92,45.57 375.20,45.51 375.48,45.43 375.76,45.29 376.04,45.17 376.32,45.01 376.60,45.17 376.89,45.13 377.17,45.11 377.45,45.21 377.73,45.28 378.01,45.11 378.29,44.95 378.57,44.95 378.85,44.77 379.13,44.87 379.41,45.01 379.70,45.01 379.98,44.94 380.26,44.81 380.54,44.77 380.82,44.54 381.10,44.41 381.38,44.26 381.66,44.34 381.94,44.42 382.23,44.51 382.51,44.55 382.79,44.70 383.07,44.71 383.35,44.77 383.63,44.55 383.91,44.26 384.19,43.98 384.47,43.97 384.75,44.09 385.04,43.90 385.32,44.25 385.60,44.25 385.88,44.27 386.16,44.29 386.44,44.26 386.72,44.15 387.00,44.10 387.28,44.23 387.56,44.41 387.85,44.48 388.13,44.59 388.41,44.48 388.69,44.36 388.97,44.37 389.25,44.27 389.53,44.11 389.81,44.07 390.09,44.14 390.37,44.51 390.66,44.18 390.94,44.26 391.22,44.23 391.50,44.08 391.78,43.90 392.06,43.71 392.34,43.49 392.62,43.30 392.90,43.10 393.18,42.84 393.47,42.94 393.75,43.01 394.03,43.23 394.31,43.19 394.59,43.38 394.87,43.15 395.15,42.80 395.43,42.50 395.71,42.18 396.00,42.38 396.28,40.95 396.56,39.98 396.84,39.16 397.12,36.71 397.40,34.96 397.68,33.21 397.96,33.61 398.24,34.07 398.52,34.34 398.81,32.63 399.09,31.64 399.37,29.40 399.65,28.04 399.93,27.18 400.21,26.96 400.49,27.59 400.77,24.24 401.05,28.64 401.33,29.22 401.62,30.64 401.90,31.22 402.18,32.31 402.46,32.76 402.74,33.11 403.02,33.54 403.30,34.77 403.58,35.50 403.86,36.86 404.14,35.05 404.43,34.91 404.71,34.61 404.99,33.66 405.27,31.98 405.55,29.37 405.83,26.82 406.11,25.99 406.39,25.77 406.67,25.67 406.95,23.04 407.24,20.80 407.52,20.28 407.80,20.79 408.08,17.20 408.36,22.24 408.64,24.06 408.92,23.49 409.20,17.62 409.48,25.07 409.77,24.63 410.05,27.08 410.33,26.70 410.61,30.94 410.89,35.55 411.17,37.23 411.45,45.81 411.73,51.61 412.01,55.99 412.29,62.83 412.58,64.35 412.86,64.93 413.14,68.37 413.42,66.62 413.70,67.48 413.98,68.01 414.26,93.10 414.54,81.02 414.82,88.79 415.10,78.59 415.39,74.23 415.67,66.39 415.95,69.06 416.23,76.27 416.51,81.28 416.79,77.37 417.07,76.45 417.35,67.88 417.63,66.97 417.91,99.10 418.20,78.84 418.48,80.64 418.76,87.08 419.04,92.10 419.32,98.03 419.60,95.72 419.88,88.16 420.16,74.98 420.44,57.42 420.72,71.41 421.01,69.92 421.29,73.84 421.57,72.92 421.85,80.58 422.13,57.03 422.41,82.95 422.69,67.66 422.97,57.87 423.25,74.95 423.54,84.79 423.82,75.52 424.10,68.77 424.38,61.25 424.66,62.04 424.94,67.56 425.22,73.30 425.50,77.70 425.78,82.77 426.06,86.48 426.35,92.01 426.63,90.37 426.91,86.72 427.19,84.16 427.47,82.22 427.75,80.75 428.03,78.52 428.31,76.35 428.59,82.54 428.87,88.38 429.16,93.73 429.44,98.23 429.72,100.71 430.00,102.28 430.28,98.57 430.56,100.15 430.84,98.41 431.12,99.40 431.40,99.46 431.68,95.55 431.97,101.53 432.25,104.71 432.53,107.41 432.81,111.79 433.09,114.18 433.37,118.07 433.65,120.07 433.93,119.78 434.21,117.17 434.49,114.74 434.78,110.34 435.06,110.25 435.34,114.09 435.62,115.35 435.90,118.80 436.18,122.80 436.46,128.35 436.74,132.20 437.02,133.12 437.31,129.12 437.59,130.09 437.87,127.12 438.15,138.61 438.43,127.54 438.71,128.59 438.99,134.21 439.27,126.55 439.55,120.24 439.83,114.84 440.12,106.33 440.40,107.59 440.68,113.32 440.96,99.54 441.24,116.49 441.52,117.22 441.80,121.11 442.08,118.71 442.36,115.95 442.64,111.98 442.93,110.24 443.21,113.86 443.49,118.74 443.77,116.60 444.05,112.55 444.33,129.10 444.61,113.26 444.89,117.41 445.17,119.55 445.45,124.20 445.74,128.79 446.02,123.16 446.30,121.03 446.58,115.73 446.86,109.56 447.14,108.36 447.42,112.68 447.70,119.38 447.98,125.79 448.26,120.84 448.55,100.17 448.83,109.56 449.11,109.52 449.39,115.15 449.67,121.21 449.95,119.64 450.23,123.06 450.51,120.52 450.79,119.49 451.07,119.16 451.36,124.07 451.64,127.96 451.92,135.86 452.20,141.43 452.48,138.09 452.76,136.30 453.04,133.76 453.32,127.64 453.60,125.07 453.89,134.15 454.17,140.86 454.45,148.43 454.73,149.10 455.01,141.52 455.29,134.68 455.57,128.79 455.85,145.58 456.13,106.00 456.41,93.04 456.70,89.95 456.98,94.43 457.26,94.81 457.54,98.32 457.82,82.48 458.10,65.08 458.38,68.74 458.66,69.33 458.94,71.22 459.22,74.16 459.51,76.01 459.79,70.67 460.07,64.49 460.35,60.57 460.63,51.81 460.91,42.36 461.19,36.78 461.47,27.53 461.75,30.78 462.03,33.26 462.32,31.95 462.60,22.09 462.88,33.26 463.16,31.69 463.44,28.65 463.72,28.08 464.00,28.13 464.28,28.19 464.56,28.03 464.84,30.33 465.13,32.22 465.41,31.92 465.69,32.41 465.97,33.07 466.25,32.77 466.53,32.22 466.81,32.94 467.09,34.64 467.37,35.56 467.66,37.85 467.94,38.95 468.22,41.35 468.50,42.80 468.78,45.50 469.06,44.83 469.34,46.02 469.62,46.06 469.90,47.28 470.18,47.43 470.47,48.14 470.75,49.16 471.03,50.03 471.31,51.18 471.59,52.03 471.87,53.05 472.15,54.26 472.43,54.29 472.71,53.96 472.99,53.67 473.28,53.45 473.56,54.72 473.84,55.59 474.12,56.65 474.40,57.43 474.68,57.11 474.96,57.00"/>
<polyline stroke="#bbbbbb" points="99.80,37.82 100.08,38.16 100.36,38.26 100.64,38.94 100.92,39.43 101.21,41.71 101.49,43.46 101.77,43.72 102.05,42.43 102.33,47.98 102.61,56.87 102.89,57.51 103.17,56.62 103.45,54.64 103.73,62.26 104.02,70.56 104.30,76.77 104.58,76.22 104.86,75.81 105.14,75.29 105.42,75.38 105.70,74.01 105.98,78.68 106.26,82.24 106.54,84.06 106.83,86.65 107.11,86.29 107.39,85.86 107.67,84.66 107.95,85.03 108.23,83.68 108.51,84.36 108.79,84.51 109.07,85.71 109.35,87.65 109.64,88.29 109.92,89.23 110.20,90.68 110.48,91.45 110.76,91.53 111.04,91.84 111.32,92.67 111.60,92.09 111.88,92.58 112.16,92.83 112.45,97.16 112.73,100.64 113.01,104.71 113.29,103.45 113.57,103.06 113.85,103.48 114.13,102.38 114.41,102.99 114.69,102.72 114.98,101.60 115.26,102.44 115.54,106.44 115.82,112.86 116.10,118.73 116.38,120.51 116.66,120.80 116.94,118.23 117.22,120.90 117.50,120.34 117.79,118.73 118.07,120.62 118.35,117.34 118.63,118.56 118.91,123.93 119.19,127.06 119.47,134.73 119.75,139.90 120.03,135.54 120.31,134.22 120.60,135.53 120.88,133.55 121.16,131.00 121.44,131.09 121.72,134.76 122.00,138.08 122.28,142.33 122.56,144.83 122.84,149.15 123.12,151.41 123.41,149.43 123.69,148.66 123.97,147.87 124.25,146.24 124.53,143.45 124.81,152.05 125.09,157.99 125.37,155.77 125.65,150.93 125.93,147.87 126.22,151.89 126.50,157.49 126.78,156.16 127.06,155.73 127.34,156.21 127.62,155.37 127.90,155.82 128.18,155.77 128.46,156.27 128.75,158.28 129.03,162.86 129.31,171.27 129.59,179.39 129.87,178.77 130.15,174.12 130.43,172.74 130.71,171.60 130.99,170.35 131.27,174.29 131.56,178.18 131.84,181.11 132.12,186.22 132.40,190.50 132.68,191.98 132.96,194.59 133.24,194.13 133.52,182.14 133.80,177.35 134.08,171.94 134.37,173.49 134.65,173.23 134.93,171.24 135.21,172.62 135.49,171.81 135.77,168.60 136.05,167.69 136.33,162.23 136.61,156.61 136.89,147.45 137.18,149.28 137.46,145.25 137.74,146.18 138.02,143.66 138.30,142.06 138.58,141.77 138.86,143.04 139.14,130.83 139.42,121.84 139.70,111.31 139.99,101.11 140.27,103.93 140.55,102.53 140.83,101.22 141.11,102.33 141.39,97.32 141.67,97.30 141.95,98.80 142.23,96.07 142.52,83.52 142.80,74.46 143.08,70.83 143.36,66.28 143.64,56.57 143.92,47.10 144.20,55.08 144.48,57.96 144.76,62.49 145.04,65.01 145.33,59.93 145.61,55.36 145.89,50.91 146.17,52.64 146.45,52.57 146.73,53.89 147.01,54.76 147.29,53.39 147.57,53.00 147.85,51.47 148.14,49.27 148.42,46.94 148.70,48.69 148.98,49.33 149.26,50.36 149.54,45.84 149.82,40.44 150.10,41.44 150.38,41.52 150.66,42.05 150.95,41.99 151.23,41.70 151.51,41.07 151.79,39.17 152.07,37.90 152.35,38.59 152.63,39.93 152.91,37.90 153.19,41.53 153.47,40.21 153.76,39.40 154.04,38.63 154.32,44.00 154.60,42.25 154.88,37.90 155.16,44.80 155.44,41.41 155.72,42.84 156.00,43.58 156.29,41.50 156.57,39.74 156.85,42.38 157.13,38.03 157.41,39.88 157.69,41.58 157.97,42.38 158.25,41.26 158.53,41.64 158.81,41.60 159.10,43.44 159.38,43.80 159.66,42.54 159.94,41.51 160.22,42.40 160.50,43.50 160.78,44.21 161.06,44.68 161.34,43.37 161.62,43.05 161.91,41.79 162.19,41.35 162.47,42.40 162.75,44.70 163.03,46.33 163.31,44.72 163.59,43.87 163.87,40.90 164.15,46.71 164.43,44.69 164.72,45.50 165.00,42.39 165.28,43.91 165.56,45.92 165.84,41.00 166.12,42.51 166.40,43.96 166.68,44.90 166.96,40.90 167.24,40.90 167.53,44.06 167.81,42.64 168.09,41.23 168.37,42.22 168.65,42.32 168.93,43.27 169.21,43.50 169.49,40.90 169.77,41.50 170.05,40.90 170.34,42.54 170.62,43.14 170.90,40.90 171.18,41.84 171.46,42.25 171.74,42.84 172.02,43.40 172.30,42.79 172.58,41.90 172.87,41.52 173.15,41.66 173.43,42.28 173.71,42.08 173.99,42.50 174.27,42.15 174.55,41.92 174.83,41.73 175.11,40.90 175.39,41.70 175.68,41.92 175.96,42.26 176.24,41.74 176.52,41.29 176.80,40.93 177.08,41.92 177.36,43.02 177.64,41.81 177.92,40.90 178.20,44.15 178.49,43.45 178.77,41.74 179.05,40.92 179.33,49.31 179.61,43.49 179.89,41.84 180.17,42.48 180.45,43.97 180.73,45.56 181.01,41.70 181.30,47.10 181.58,41.40 181.86,47.62 182.14,45.31 182.42,46.30 182.70,42.42 182.98,41.40 183.26,44.44 183.54,45.54 183.82,44.24 184.11,43.09 184.39,42.28 184.67,41.53 184.95,41.40 185.23,43.93 185.51,43.30 185.79,42.36 186.07,42.60 186.35,44.47 186.64,43.46 186.92,42.52 187.20,41.62 187.48,44.27 187.76,41.65 188.04,41.40 188.32,45.05 188.60,42.76 188.88,41.86 189.16,42.63 189.45,43.28 189.73,44.35 190.01,41.73 190.29,42.44 190.57,43.35 190.85,44.08 191.13,41.40 191.41,41.88 191.69,44.25 191.97,41.40 192.26,44.17 192.54,43.58 192.82,42.50 193.10,41.71 193.38,43.18 193.66,44.16 193.94,41.40 194.22,41.56 194.50,42.20 194.78,42.78 195.07,43.71 195.35,42.90 195.63,42.67 195.91,42.09 196.19,42.68 196.47,43.37 196.75,43.03 197.03,42.69 197.31,42.27 197.59,42.65 197.88,43.09 198.16,42.65 198.44,42.37 198.72,41.95 199.00,41.38 199.28,42.11 199.56,42.91 199.84,42.67 200.12,42.13 200.41,41.38 200.69,41.17 200.97,41.12 201.25,41.16 201.53,41.15 201.81,41.18 202.09,39.54 202.37,41.61 202.65,41.66 202.93,41.58 203.22,44.04 203.50,47.34 203.78,51.03 204.06,49.13 204.34,44.97 204.62,48.81 204.90,54.82 205.18,58.97 205.46,61.56 205.74,60.14 206.03,57.75 206.31,62.14 206.59,66.17 206.87,66.72 207.15,68.02 207.43,68.77 207.71,69.34 207.99,68.71 208.27,68.50 208.55,70.81 208.84,72.59 209.12,77.07 209.40,80.52 209.68,83.16 209.96,85.65 210.24,84.53 210.52,84.06 210.80,85.03 211.08,89.18 211.36,91.50 211.65,93.60 211.93,97.20 212.21,97.74 212.49,101.76 212.77,99.98 213.05,100.07 213.33,99.83 213.61,101.23 213.89,99.87 214.18,101.69 214.46,102.72 214.74,106.50 215.02,110.99 215.30,111.87 215.58,114.00 215.86,115.11 216.14,117.31 216.42,118.01 216.70,118.87 216.99,119.83 217.27,118.78 217.55,118.02 217.83,117.78 218.11,116.99 218.39,117.20 218.67,116.44 218.95,117.09 219.23,118.86 219.51,120.58 219.80,124.42 220.08,129.03 220.36,129.12 220.64,130.77 220.92,131.22 221.20,130.60 221.48,130.45 221.76,134.66 222.04,138.79 222.32,142.35 222.61,144.91 222.89,145.26 223.17,143.80 223.45,144.10 223.73,143.16 224.01,144.08 224.29,143.45 224.57,148.32 224.85,152.31 225.13,151.98 225.42,145.71 225.70,142.62 225.98,139.15 226.26,139.61 226.54,139.46 226.82,140.21 227.10,140.26 227.38,141.18 227.66,140.78 227.95,130.73 228.23,134.83 228.51,134.39 228.79,132.72 229.07,134.43 229.35,137.94 229.63,138.88 229.91,146.35 230.19,141.39 230.47,134.76 230.76,129.35 231.04,122.78 231.32,124.08 231.60,123.53 231.88,120.00 232.16,123.09 232.44,123.91 232.72,124.46 233.00,125.54 233.28,124.99 233.57,124.53 233.85,128.88 234.13,134.63 234.41,142.16 234.69,139.43 234.97,139.12 235.25,139.16 235.53,138.58 235.81,142.53 236.09,147.85 236.38,152.13 236.66,156.26 236.94,155.70 237.22,156.69 237.50,156.33 237.78,157.48 238.06,157.11 238.34,158.73 238.62,160.67 238.90,163.19 239.19,168.04 239.47,163.44 239.75,163.54 240.03,162.78 240.31,163.70 240.59,162.92 240.87,160.53 241.15,159.14 241.43,157.57 241.72,155.30 242.00,154.02 242.28,149.98 242.56,152.92 242.84,153.83 243.12,154.84 243.40,156.53 243.68,161.10 243.96,155.34 244.24,156.44 244.53,153.15 244.81,160.22 245.09,136.57 245.37,127.06 245.65,115.68 245.93,95.75 246.21,82.97 246.49,77.44 246.77,91.18 247.05,103.45 247.34,99.84 247.62,96.40 247.90,71.00 248.18,92.87 248.46,86.10 248.74,90.02 249.02,84.53 249.30,84.06 249.58,83.08 249.86,86.40 250.15,99.10 250.43,89.60 250.71,92.44 250.99,93.94 251.27,93.38 251.55,88.33 251.83,83.12 252.11,74.06 252.39,97.13 252.67,70.35 252.96,89.28 253.24,73.38 253.52,59.57 253.80,52.88 254.08,23.40 254.36,34.55 254.64,29.04 254.92,27.95 255.20,23.40 255.49,26.15 255.77,29.17 256.05,30.60 256.33,34.21 256.61,35.51 256.89,36.22 257.17,38.62 257.45,37.63 257.73,40.10 258.01,36.08 258.30,34.97 258.58,34.35 258.86,34.14 259.14,33.49 259.42,34.97 259.70,37.54 259.98,38.33 260.26,39.58 260.54,40.62 260.82,37.21 261.11,35.64 261.39,33.80 261.67,32.31 261.95,31.60 262.23,29.90 262.51,33.08 262.79,34.63 263.07,34.48 263.35,33.06 263.63,34.58 263.92,29.90 264.20,34.35 264.48,36.19 264.76,37.64 265.04,38.70 265.32,38.96 265.60,39.21 265.88,39.56 266.16,40.30 266.44,41.50 266.73,40.96 267.01,40.45 267.29,39.66 267.57,39.22 267.85,40.87 268.13,38.16 268.41,44.52 268.69,43.59 268.97,42.24 269.26,44.93 269.54,44.06 269.82,43.76 270.10,43.41 270.38,45.59 270.66,44.86 270.94,45.39 271.22,44.74 271.50,43.89 271.78,42.90 272.07,42.26 272.35,43.31 272.63,44.79 272.91,42.63 273.19,45.52 273.47,44.78 273.75,44.04 274.03,43.24 274.31,42.27 274.59,43.25 274.88,44.20 275.16,45.37 275.44,44.83 275.72,44.41 276.00,43.46 276.28,43.78 276.56,44.48 276.84,44.90 277.12,44.15 277.40,43.31 277.69,42.58 277.97,45.08 278.25,44.60 278.53,44.09 278.81,43.34 279.09,44.14 279.37,44.67 279.65,43.39 279.93,41.77 280.21,43.87 280.50,43.52 280.78,43.09 281.06,42.73 281.34,42.29 281.62,42.56 281.90,40.93 282.18,42.38 282.46,42.43 282.74,41.97 283.03,43.44 283.31,42.79 283.59,42.31 283.87,41.73 284.15,41.49 284.43,42.04 284.71,42.57 284.99,42.23 285.27,41.51 285.55,41.46 285.84,41.87 286.12,40.90 286.40,42.27 286.68,42.02 286.96,41.57 287.24,40.90 287.52,43.28 287.80,42.78 288.08,41.86 288.36,41.65 288.65,40.90 288.93,43.59 289.21,42.95 289.49,42.26 289.77,41.77 290.05,40.90 290.33,44.10 290.61,41.73 290.89,42.61 291.17,43.07 291.46,44.10 291.74,42.22 292.02,42.70 292.30,43.50 292.58,42.84 292.86,40.90 293.14,44.05 293.42,41.76 293.70,42.29 293.98,42.64 294.27,43.08 294.55,43.29 294.83,42.65 295.11,42.47 295.39,41.84 295.67,41.27 295.95,42.08 296.23,42.69 296.51,41.66 296.80,41.90 297.08,42.55 297.36,42.99 297.64,42.55 297.92,42.23 298.20,41.74 298.48,42.73 298.76,41.63 299.04,41.32 299.32,41.41 299.61,40.78 299.89,39.54 300.17,38.88 300.45,39.20 300.73,39.89 301.01,37.41 301.29,39.70 301.57,39.13 301.85,38.78 302.13,39.63 302.42,40.04 302.70,41.50 302.98,43.18 303.26,43.08 303.54,42.24 303.82,41.77 304.10,44.33 304.38,46.79 304.66,50.33 304.94,51.32 305.23,53.34 305.51,58.60 305.79,62.17 306.07,60.89 306.35,58.42 306.63,56.92 306.91,54.64 307.19,51.93 307.47,55.92 307.75,60.54 308.04,63.22 308.32,69.13 308.60,69.77 308.88,70.79 309.16,72.17 309.44,70.03 309.72,68.88 310.00,67.85 310.28,77.27 310.56,89.27 310.85,97.56 311.13,92.42 311.41,85.03 311.69,90.48 311.97,93.01 312.25,95.11 312.53,99.57 312.81,104.46 313.09,109.89 313.38,102.93 313.66,99.28 313.94,110.79 314.22,115.42 314.50,115.14 314.78,118.67 315.06,118.47 315.34,118.45 315.62,119.72 315.90,119.95 316.19,121.18 316.47,120.02 316.75,127.87 317.03,132.12 317.31,139.06 317.59,138.54 317.87,136.26 318.15,136.01 318.43,133.56 318.71,131.38 319.00,135.95 319.28,138.79 319.56,141.29 319.84,145.48 320.12,150.62 320.40,157.47 320.68,165.08 320.96,165.20 321.24,162.94 321.52,162.73 321.81,161.06 322.09,167.83 322.37,179.97 322.65,188.29 322.93,194.69 323.21,209.62 323.49,203.75 323.77,199.63 324.05,197.77 324.33,194.49 324.62,192.48 324.90,190.25 325.18,190.49 325.46,190.81 325.74,193.46 326.02,194.66 326.30,197.80 326.58,200.50 326.86,202.52 327.15,204.66 327.43,205.01 327.71,204.40 327.99,204.40 328.27,204.58 328.55,204.60 328.83,207.87 329.11,209.83 329.39,213.70 329.67,215.36 329.96,216.77 330.24,217.66 330.52,219.22 330.80,210.82 331.08,206.53 331.36,204.61 331.64,201.73 331.92,199.18 332.20,198.86 332.48,195.50 332.77,199.81 333.05,200.11 333.33,199.72 333.61,200.60 333.89,199.96 334.17,200.88 334.45,202.15 334.73,202.99 335.01,204.47 335.29,205.11 335.58,205.70 335.86,206.60 336.14,205.21 336.42,203.99 336.70,205.96 336.98,207.43 337.26,209.56 337.54,209.60 337.82,209.97 338.10,209.94 338.39,210.26 338.67,206.98 338.95,205.96 339.23,204.50 339.51,204.02 339.79,203.61 340.07,202.89 340.35,202.42 340.63,198.46 340.92,202.09 341.20,203.04 341.48,202.78 341.76,202.98 342.04,203.69 342.32,204.07 342.60,204.08 342.88,204.49 343.16,206.03 343.44,207.21 343.73,209.12 344.01,210.48 344.29,211.96 344.57,213.65 344.85,215.15 345.13,217.05 345.41,217.70 345.69,217.36 345.97,218.98 346.25,221.62 346.54,213.02 346.82,211.68 347.10,205.02 347.38,199.53 347.66,197.55 347.94,190.36 348.22,177.43 348.50,169.45 348.78,173.20 349.06,170.53 349.35,145.51 349.63,132.06 349.91,118.07 350.19,111.01 350.47,113.89 350.75,118.32 351.03,122.21 351.31,120.89 351.59,123.13 351.87,124.10 352.16,113.54 352.44,107.13 352.72,99.93 353.00,88.38 353.28,83.93 353.56,82.03 353.84,80.81 354.12,75.49 354.40,75.53 354.69,76.60 354.97,69.49 355.25,61.26 355.53,57.83 355.81,54.75 356.09,48.07 356.37,44.61 356.65,53.51 356.93,55.36 357.21,49.39 357.50,31.53 357.78,42.20 358.06,41.06 358.34,40.13 358.62,43.31 358.90,45.48 359.18,46.71 359.46,47.58 359.74,46.51 360.02,45.47 360.31,44.53 360.59,46.59 360.87,47.76 361.15,48.08 361.43,44.93 361.71,43.93 361.99,47.01 362.27,45.92 362.55,44.44 362.83,43.59 363.12,44.06 363.40,45.39 363.68,46.29 363.96,47.30 364.24,46.51 364.52,45.27 364.80,42.72 365.08,46.69 365.36,37.63 365.64,39.52 365.93,44.12 366.21,47.37 366.49,44.26 366.77,43.21 367.05,45.07 367.33,47.49 367.61,46.76 367.89,45.27 368.17,43.60 368.46,45.11 368.74,46.40 369.02,45.44 369.30,44.10 369.58,45.51 369.86,46.61 370.14,46.06 370.42,45.31 370.70,44.72 370.98,44.05 371.27,44.54 371.55,44.88 371.83,45.42 372.11,45.57 372.39,44.70 372.67,44.08 372.95,44.89 373.23,45.49 373.51,46.35 373.79,45.66 374.08,45.02 374.36,44.40 374.64,43.70 374.92,44.79 375.20,46.10 375.48,44.70 375.76,43.44 376.04,43.98 376.32,44.82 376.60,45.34 376.89,46.01 377.17,44.59 377.45,43.16 377.73,43.42 378.01,43.91 378.29,44.57 378.57,45.01 378.85,44.01 379.13,42.90 379.41,44.14 379.70,44.58 379.98,45.81 380.26,44.96 380.54,44.62 380.82,44.10 381.10,43.47 381.38,44.25 381.66,44.95 381.94,42.90 382.23,44.98 382.51,44.81 382.79,44.43 383.07,43.55 383.35,46.11 383.63,44.48 383.91,42.90 384.19,46.13 384.47,45.08 384.75,43.13 385.04,42.90 385.32,46.37 385.60,44.38 385.88,43.96 386.16,43.34 386.44,46.26 386.72,45.54 387.00,44.38 387.28,45.39 387.56,45.98 387.85,43.10 388.13,42.90 388.41,44.14 388.69,43.76 388.97,42.91 389.25,43.53 389.53,44.38 389.81,44.92 390.09,45.18 390.37,43.65 390.66,44.34 390.94,44.32 391.22,44.81 391.50,43.78 391.78,44.13 392.06,44.73 392.34,44.91 392.62,45.12 392.90,44.06 393.18,43.14 393.47,44.24 393.75,43.40 394.03,42.90 394.31,42.26 394.59,42.47 394.87,42.87 395.15,43.40 395.43,43.56 395.71,43.17 396.00,42.44 396.28,41.37 396.56,40.15 396.84,41.10 397.12,40.46 397.40,39.60 397.68,38.76 397.96,36.99 398.24,38.33 398.52,39.11 398.81,39.50 399.09,40.30 399.37,38.73 399.65,37.46 399.93,36.90 400.21,39.35 400.49,40.10 400.77,37.29 401.05,37.77 401.33,38.36 401.62,39.02 401.90,36.90 402.18,38.40 402.46,37.34 402.74,39.24 403.02,40.57 403.30,40.58 403.58,39.80 403.86,38.85 404.14,38.17 404.43,39.41 404.71,41.58 404.99,43.76 405.27,43.20 405.55,41.60 405.83,43.35 406.11,46.61 406.39,49.23 406.67,48.53 406.95,47.65 407.24,50.67 407.52,43.55 407.80,44.72 408.08,45.53 408.36,42.01 408.64,39.12 408.92,40.25 409.20,40.77 409.48,41.52 409.77,41.78 410.05,37.45 410.33,41.79 410.61,37.72 410.89,38.29 411.17,39.20 411.45,34.00 411.73,41.06 412.01,39.15 412.29,39.88 412.58,42.56 412.86,43.87 413.14,46.07 413.42,47.09 413.70,47.18 413.98,47.00 414.26,46.63 414.54,45.12 414.82,43.04 415.10,40.80 415.39,37.92 415.67,47.80 415.95,32.60 416.23,60.06 416.51,52.59 416.79,48.71 417.07,51.95 417.35,59.45 417.63,65.06 417.91,72.83 418.20,77.76 418.48,83.54 418.76,84.70 419.04,82.05 419.32,84.64 419.60,83.47 419.88,85.31 420.16,87.97 420.44,92.62 420.72,93.37 421.01,95.74 421.29,95.92 421.57,97.61 421.85,99.50 422.13,101.24 422.41,105.10 422.69,99.53 422.97,98.74 423.25,97.55 423.54,97.63 423.82,97.96 424.10,96.88 424.38,98.63 424.66,100.43 424.94,101.30 425.22,104.40 425.50,106.68 425.78,110.77 426.06,115.09 426.35,118.27 426.63,118.93 426.91,118.95 427.19,119.23 427.47,120.22 427.75,123.50 428.03,125.17 428.31,123.90 428.59,126.56 428.87,132.63 429.16,142.83 429.44,151.50 429.72,149.30 430.00,150.02 430.28,148.34 430.56,146.15 430.84,151.21 431.12,155.73 431.40,161.82 431.68,165.76 431.97,170.60 432.25,165.31 432.53,164.06 432.81,162.27 433.09,176.25 433.37,167.86 433.65,167.00 433.93,164.07 434.21,161.11 434.49,160.99 434.78,160.68 435.06,155.58 435.34,145.26 435.62,141.59 435.90,136.88 436.18,130.91 436.46,126.28 436.74,134.51 437.02,140.83 437.31,138.24 437.59,126.33 437.87,135.45 438.15,135.21 438.43,136.64 438.71,133.78 438.99,135.81 439.27,144.78 439.55,151.12 439.83,157.43 440.12,161.20 440.40,153.45 440.68,145.64 440.96,150.16 441.24,162.86 441.52,154.49 441.80,155.61 442.08,157.78 442.36,160.78 442.64,161.46 442.93,160.91 443.21,159.16 443.49,158.88 443.77,157.95 444.05,155.18 444.33,155.80 444.61,154.31 444.89,153.69 445.17,153.38 445.45,153.36 445.74,151.97 446.02,152.09 446.30,152.15 446.58,152.59 446.86,151.71 447.14,150.89 447.42,144.47 447.70,138.81 447.98,132.32 448.26,132.66 448.55,125.99 448.83,155.36 449.11,126.74 449.39,127.00 449.67,132.27 449.95,111.90 450.23,106.11 450.51,89.55 450.79,91.73 451.07,99.17 451.36,98.78 451.64,103.63 451.92,112.41 452.20,110.27 452.48,101.58 452.76,92.91 453.04,85.66 453.32,80.80 453.60,80.37 453.89,72.75 454.17,70.48 454.45,65.65 454.73,68.02 455.01,67.44 455.29,70.24 455.57,77.21 455.85,79.20 456.13,78.56 456.41,81.21 456.70,82.80 456.98,73.76 457.26,70.36 457.54,56.07 457.82,46.55 458.10,31.64 458.38,47.69 458.66,50.08 458.94,44.01 459.22,32.67 459.51,17.20 459.79,24.82 460.07,22.69 460.35,26.40 460.63,28.20 460.91,17.20 461.19,30.23 461.47,34.66 461.75,37.87 462.03,36.92 462.32,35.87 462.60,34.98 462.88,33.59 463.16,33.81 463.44,34.27 463.72,36.40 464.00,39.90 464.28,42.44 464.56,43.77 464.84,43.05 465.13,41.20 465.41,40.43 465.69,42.33 465.97,44.76 466.25,47.04 466.53,46.00 466.81,45.00 467.09,43.29 467.37,43.87 467.66,45.19 467.94,46.76 468.22,48.70 468.50,48.66 468.78,47.92 469.06,47.78 469.34,47.43 469.62,48.48 469.90,48.81 470.18,49.74 470.47,50.16 470.75,49.67 471.03,49.76 471.31,49.05 471.59,48.34 471.87,48.46 472.15,48.14 472.43,47.90 472.71,47.78 472.99,50.49 473.28,51.89 473.56,54.02 473.84,53.37 474.12,53.38 474.40,52.42 474.68,51.67 474.96,51.01"/>
</g>
<rect x="81.0" y="6.0" width="413.0" height="226.0" fill="none" stroke="#000" stroke-width="1.19" stroke-linejoin="miter"/>
<g stroke="#000" stroke-width="1.19"><line x1="75.8" y1="41.5" x2="81.0" y2="41.5"/><line x1="75.8" y1="103.83" x2="81.0" y2="103.83"/><line x1="75.8" y1="166.17" x2="81.0" y2="166.17"/><line x1="75.8" y1="228.5" x2="81.0" y2="228.5"/><line x1="116.8" y1="232.0" x2="116.8" y2="237.2"/><line x1="219.6" y1="232.0" x2="219.6" y2="237.2"/><line x1="322.1" y1="232.0" x2="322.1" y2="237.2"/><line x1="424.6" y1="232.0" x2="424.6" y2="237.2"/></g>
<text x="71.10" y="47.60" text-anchor="end">0.00</text><text x="71.10" y="109.93" text-anchor="end">−0.05</text><text x="71.10" y="172.27" text-anchor="end">−0.10</text><text x="71.10" y="234.60" text-anchor="end">−0.15</text><text x="116.80" y="253.40" text-anchor="middle">2016</text><text x="219.60" y="253.40" text-anchor="middle">2017</text><text x="322.10" y="253.40" text-anchor="middle">2018</text><text x="424.60" y="253.40" text-anchor="middle">2019</text>
<text transform="translate(16.0,118.9) rotate(-90)" text-anchor="middle">[m]</text>
<rect x="81.4" y="265.2" width="412.7" height="26.9" rx="3" ry="3" fill="#fff" fill-opacity="0.8" stroke="#cccccc" stroke-opacity="0.8" stroke-width="1.49"/>
<line x1="87.2" y1="277.1" x2="116.9" y2="277.1" stroke="#ff800e" stroke-width="2.23" stroke-linecap="square"/>
<line x1="287.1" y1="277.1" x2="316.8" y2="277.1" stroke="#006ba4" stroke-width="2.23" stroke-linecap="square"/>
<line x1="396.1" y1="277.1" x2="425.8" y2="277.1" stroke="#bbbbbb" stroke-width="2.23" stroke-linecap="square"/>
<text x="128.9" y="282.6">CARRA_Land_Pv1</text>
<text x="328.4" y="282.6">CTRL</text>
<text x="437.2" y="282.6">CARRA</text>
</svg>
</body></html>
